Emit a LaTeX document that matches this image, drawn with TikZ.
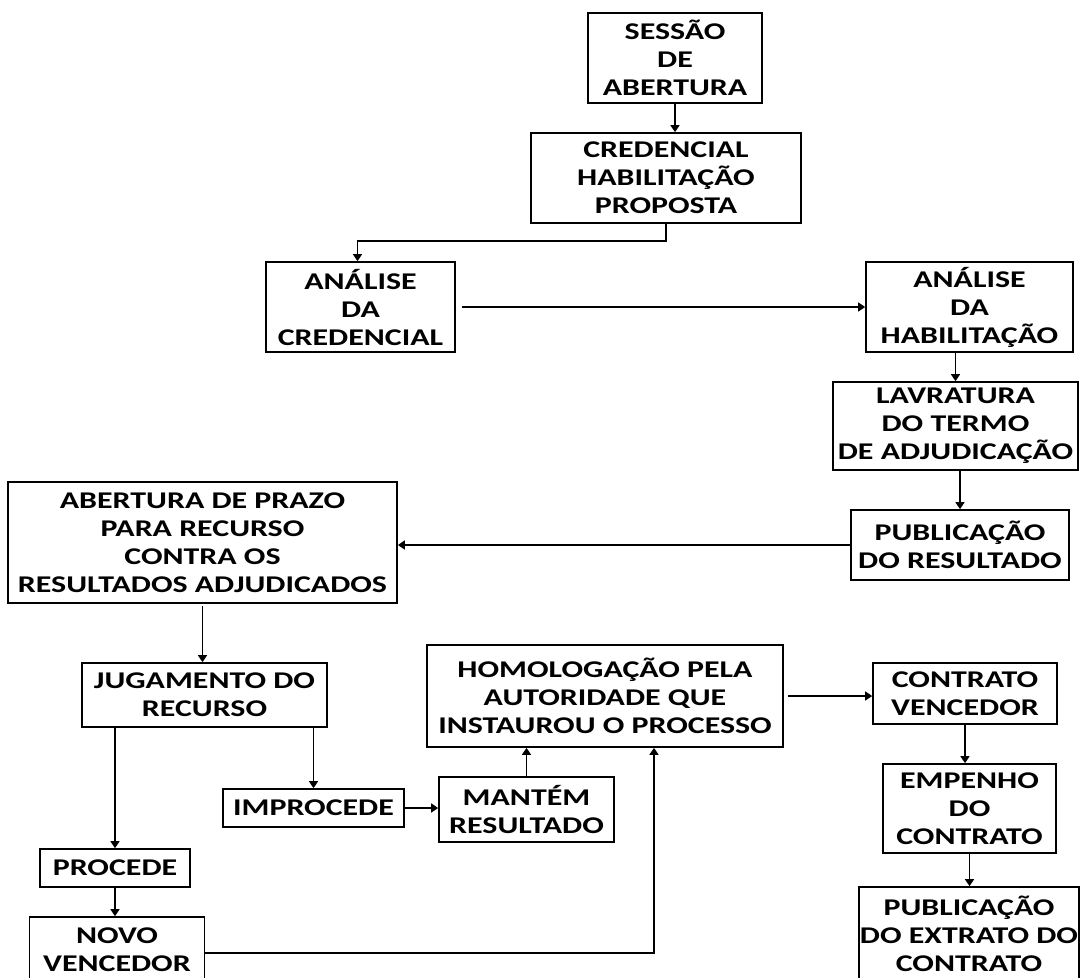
\documentclass[tikz,border=0pt]{standalone}
\usepackage{fontspec}
\setmainfont{Carlito}[FakeStretch=1.33]
\usetikzlibrary{arrows.meta}
\begin{document}
\begin{tikzpicture}[x=1pt,y=-1pt,
  box/.style={draw, line width=1.7pt, inner sep=0pt, align=center,
    font=\fontsize{24}{28}\selectfont\bfseries},
  arr/.style={line width=1.5pt, -{Triangle[length=7pt,width=9pt]}}]
\useasboundingbox (0,0) rectangle (1081,977);
\node[box, minimum width=174pt, minimum height=90pt] (ses) at (675,58) {SESSÃO\\DE\\ABERTURA};
\node[box, minimum width=270pt, minimum height=90pt] (cred) at (666,178) {CREDENCIAL\\HABILITAÇÃO\\PROPOSTA};
\node[box, minimum width=189pt, minimum height=90pt] (ancred) at (360.5,307) {ANÁLISE\\DA\\CREDENCIAL};
\node[box, minimum width=207pt, minimum height=90pt] (anhab) at (969.5,307) {ANÁLISE\\DA\\HABILITAÇÃO};
\node[box, minimum width=245pt, minimum height=88pt] (lav) at (955.5,426) {LAVRATURA\\DO TERMO\\DE ADJUDICAÇÃO};
\node[box, minimum width=218pt, minimum height=70pt] (pub) at (960,545) {PUBLICAÇÃO\\DO RESULTADO};
\node[box, minimum width=389pt, minimum height=121pt] (aber) at (202.5,542.5) {ABERTURA DE PRAZO\\PARA RECURSO\\CONTRA OS\\RESULTADOS ADJUDICADOS};
\node[box, minimum width=245pt, minimum height=64pt] (jug) at (204.5,695) {JUGAMENTO DO\\RECURSO};
\node[box, minimum width=181pt, minimum height=38pt] (improc) at (313.5,808) {IMPROCEDE};
\node[box, minimum width=175pt, minimum height=65pt] (mant) at (526.5,809.5) {MANTÉM\\RESULTADO};
\node[box, minimum width=356pt, minimum height=102pt] (homol) at (605,696) {HOMOLOGAÇÃO PELA\\AUTORIDADE QUE\\INSTAUROU O PROCESSO};
\node[box, minimum width=150pt, minimum height=38pt] (proc) at (115,868) {PROCEDE};
\node[box, minimum width=175pt, minimum height=66pt] (novo) at (117,950) {NOVO\\VENCEDOR};
\node[box, minimum width=184pt, minimum height=61pt] (contr) at (965,693.5) {CONTRATO\\VENCEDOR};
\node[box, minimum width=173pt, minimum height=89pt] (emp) at (969.5,808.5) {EMPENHO\\DO\\CONTRATO};
\node[box, minimum width=220pt, minimum height=94pt] (pubext) at (969,934) {PUBLICAÇÃO\\DO EXTRATO DO\\CONTRATO};

\draw[arr] (ses.south) -- (ses.south |- cred.north);
\draw[arr] (cred.south) -- ++(0,17) -| ([xshift=-3pt]ancred.north);
\draw[arr, shorten <=6pt] (ancred.east) -- (anhab.west);
\draw[arr] (lav.north |- anhab.south) -- (lav.north);
\draw[arr] (pub.north |- lav.south) -- (pub.north);
\draw[arr] (pub.west) -- (pub.west -| aber.east);
\draw[arr, shorten <=2pt] (aber.south) -- (aber.south |- jug.north);
\draw[arr] (proc.north |- jug.south) -- (proc.north);
\draw[arr] (improc.north |- jug.south) -- (improc.north);
\draw[arr] (improc.east) -- (improc.east -| mant.west);
\draw[arr] (mant.north) -- (mant.north |- homol.south);
\draw[arr] (proc.south) -- (proc.south |- novo.north);
\draw[arr] (novo.north east) ++(0,37) -| ([xshift=49pt]homol.south);
\draw[arr, shorten <=4pt] (homol.east) -- (homol.east -| contr.west);
\draw[arr] (contr.south) -- (contr.south |- emp.north);
\draw[arr] (emp.south) -- (emp.south |- pubext.north);
\end{tikzpicture}
\end{document}
